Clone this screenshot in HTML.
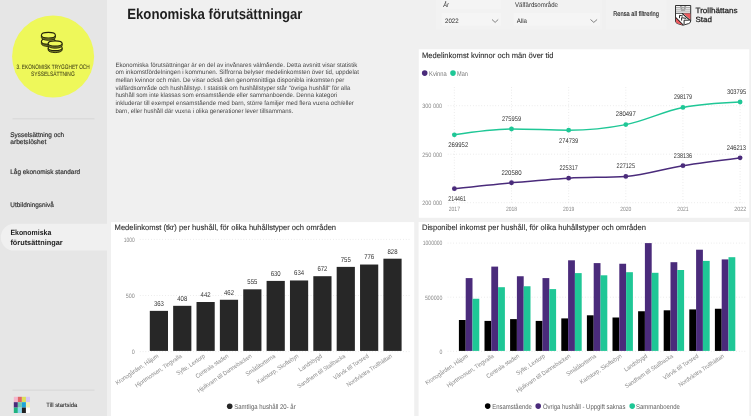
<!DOCTYPE html>
<html lang="sv"><head><meta charset="utf-8"><title>Ekonomiska förutsättningar</title>
<style>html,body{margin:0;padding:0;background:#f0f0f0;overflow:hidden}svg{display:block;will-change:transform}</style></head>
<body>
<svg width="751" height="416" viewBox="0 0 751 416" font-family='"Liberation Sans", sans-serif' text-rendering="geometricPrecision">
<rect width="751" height="416" fill="#f0f0f0"/>
<rect x="0" y="0" width="107" height="416" fill="#e6e6e6"/>
<circle cx="53.1" cy="56.5" r="41" fill="#eef85a"/>
<g>
<path d="M41.40 41.40 v2.3 a7.0 2.8 0 0 0 14.0 0 v-2.3" fill="#a8ae3a" stroke="#26260a" stroke-width="0.9"/><line x1="42.40" y1="43.44" x2="42.40" y2="44.94" stroke="#26260a" stroke-width="0.45"/><line x1="43.40" y1="43.96" x2="43.40" y2="45.46" stroke="#26260a" stroke-width="0.45"/><line x1="44.40" y1="44.30" x2="44.40" y2="45.80" stroke="#26260a" stroke-width="0.45"/><line x1="45.40" y1="44.53" x2="45.40" y2="46.03" stroke="#26260a" stroke-width="0.45"/><line x1="46.40" y1="44.68" x2="46.40" y2="46.18" stroke="#26260a" stroke-width="0.45"/><line x1="47.40" y1="44.77" x2="47.40" y2="46.27" stroke="#26260a" stroke-width="0.45"/><line x1="48.40" y1="44.80" x2="48.40" y2="46.30" stroke="#26260a" stroke-width="0.45"/><line x1="49.40" y1="44.77" x2="49.40" y2="46.27" stroke="#26260a" stroke-width="0.45"/><line x1="50.40" y1="44.68" x2="50.40" y2="46.18" stroke="#26260a" stroke-width="0.45"/><line x1="51.40" y1="44.53" x2="51.40" y2="46.03" stroke="#26260a" stroke-width="0.45"/><line x1="52.40" y1="44.30" x2="52.40" y2="45.80" stroke="#26260a" stroke-width="0.45"/><line x1="53.40" y1="43.96" x2="53.40" y2="45.46" stroke="#26260a" stroke-width="0.45"/><line x1="54.40" y1="43.44" x2="54.40" y2="44.94" stroke="#26260a" stroke-width="0.45"/><ellipse cx="48.4" cy="41.4" rx="7.0" ry="2.8" fill="#eef85a" stroke="#26260a" stroke-width="1.1"/>
<path d="M41.40 35.20 v2.3 a7.0 2.8 0 0 0 14.0 0 v-2.3" fill="#a8ae3a" stroke="#26260a" stroke-width="0.9"/><line x1="42.40" y1="37.24" x2="42.40" y2="38.74" stroke="#26260a" stroke-width="0.45"/><line x1="43.40" y1="37.76" x2="43.40" y2="39.26" stroke="#26260a" stroke-width="0.45"/><line x1="44.40" y1="38.10" x2="44.40" y2="39.60" stroke="#26260a" stroke-width="0.45"/><line x1="45.40" y1="38.33" x2="45.40" y2="39.83" stroke="#26260a" stroke-width="0.45"/><line x1="46.40" y1="38.48" x2="46.40" y2="39.98" stroke="#26260a" stroke-width="0.45"/><line x1="47.40" y1="38.57" x2="47.40" y2="40.07" stroke="#26260a" stroke-width="0.45"/><line x1="48.40" y1="38.60" x2="48.40" y2="40.10" stroke="#26260a" stroke-width="0.45"/><line x1="49.40" y1="38.57" x2="49.40" y2="40.07" stroke="#26260a" stroke-width="0.45"/><line x1="50.40" y1="38.48" x2="50.40" y2="39.98" stroke="#26260a" stroke-width="0.45"/><line x1="51.40" y1="38.33" x2="51.40" y2="39.83" stroke="#26260a" stroke-width="0.45"/><line x1="52.40" y1="38.10" x2="52.40" y2="39.60" stroke="#26260a" stroke-width="0.45"/><line x1="53.40" y1="37.76" x2="53.40" y2="39.26" stroke="#26260a" stroke-width="0.45"/><line x1="54.40" y1="37.24" x2="54.40" y2="38.74" stroke="#26260a" stroke-width="0.45"/><ellipse cx="48.4" cy="35.2" rx="7.0" ry="2.8" fill="#eef85a" stroke="#26260a" stroke-width="1.1"/>
<path d="M48.15 47.90 v2.1 a7.0 2.6 0 0 0 14.0 0 v-2.1" fill="#a8ae3a" stroke="#26260a" stroke-width="0.9"/><line x1="49.15" y1="49.84" x2="49.15" y2="51.14" stroke="#26260a" stroke-width="0.45"/><line x1="50.15" y1="50.32" x2="50.15" y2="51.62" stroke="#26260a" stroke-width="0.45"/><line x1="51.15" y1="50.63" x2="51.15" y2="51.93" stroke="#26260a" stroke-width="0.45"/><line x1="52.15" y1="50.85" x2="52.15" y2="52.15" stroke="#26260a" stroke-width="0.45"/><line x1="53.15" y1="50.99" x2="53.15" y2="52.29" stroke="#26260a" stroke-width="0.45"/><line x1="54.15" y1="51.07" x2="54.15" y2="52.37" stroke="#26260a" stroke-width="0.45"/><line x1="55.15" y1="51.10" x2="55.15" y2="52.40" stroke="#26260a" stroke-width="0.45"/><line x1="56.15" y1="51.07" x2="56.15" y2="52.37" stroke="#26260a" stroke-width="0.45"/><line x1="57.15" y1="50.99" x2="57.15" y2="52.29" stroke="#26260a" stroke-width="0.45"/><line x1="58.15" y1="50.85" x2="58.15" y2="52.15" stroke="#26260a" stroke-width="0.45"/><line x1="59.15" y1="50.63" x2="59.15" y2="51.93" stroke="#26260a" stroke-width="0.45"/><line x1="60.15" y1="50.32" x2="60.15" y2="51.62" stroke="#26260a" stroke-width="0.45"/><line x1="61.15" y1="49.84" x2="61.15" y2="51.14" stroke="#26260a" stroke-width="0.45"/><ellipse cx="55.15" cy="47.9" rx="7.0" ry="2.6" fill="#eef85a" stroke="#26260a" stroke-width="1.1"/>
<path d="M48.15 43.50 v2.1 a7.0 2.6 0 0 0 14.0 0 v-2.1" fill="#a8ae3a" stroke="#26260a" stroke-width="0.9"/><line x1="49.15" y1="45.44" x2="49.15" y2="46.74" stroke="#26260a" stroke-width="0.45"/><line x1="50.15" y1="45.92" x2="50.15" y2="47.22" stroke="#26260a" stroke-width="0.45"/><line x1="51.15" y1="46.23" x2="51.15" y2="47.53" stroke="#26260a" stroke-width="0.45"/><line x1="52.15" y1="46.45" x2="52.15" y2="47.75" stroke="#26260a" stroke-width="0.45"/><line x1="53.15" y1="46.59" x2="53.15" y2="47.89" stroke="#26260a" stroke-width="0.45"/><line x1="54.15" y1="46.67" x2="54.15" y2="47.97" stroke="#26260a" stroke-width="0.45"/><line x1="55.15" y1="46.70" x2="55.15" y2="48.00" stroke="#26260a" stroke-width="0.45"/><line x1="56.15" y1="46.67" x2="56.15" y2="47.97" stroke="#26260a" stroke-width="0.45"/><line x1="57.15" y1="46.59" x2="57.15" y2="47.89" stroke="#26260a" stroke-width="0.45"/><line x1="58.15" y1="46.45" x2="58.15" y2="47.75" stroke="#26260a" stroke-width="0.45"/><line x1="59.15" y1="46.23" x2="59.15" y2="47.53" stroke="#26260a" stroke-width="0.45"/><line x1="60.15" y1="45.92" x2="60.15" y2="47.22" stroke="#26260a" stroke-width="0.45"/><line x1="61.15" y1="45.44" x2="61.15" y2="46.74" stroke="#26260a" stroke-width="0.45"/><ellipse cx="55.15" cy="43.5" rx="7.0" ry="2.6" fill="#eef85a" stroke="#26260a" stroke-width="1.1"/>
</g>
<text x="53.15" y="68.60" font-size="6.3" fill="#45451a" text-anchor="middle" textLength="73.10" lengthAdjust="spacingAndGlyphs" stroke="#45451a" stroke-width="0.06">3. EKONOMISK TRYGGHET OCH</text>
<text x="52.85" y="75.70" font-size="6.3" fill="#45451a" text-anchor="middle" textLength="43.70" lengthAdjust="spacingAndGlyphs" stroke="#45451a" stroke-width="0.06">SYSSELSÄTTNING</text>
<rect x="12.5" y="118.3" width="82" height="1" fill="#d6d6d6"/>
<rect x="12.5" y="389.6" width="82" height="1" fill="#d6d6d6"/>
<text x="10.30" y="136.80" font-size="6.7" fill="#2b2b2b" textLength="53.80" lengthAdjust="spacingAndGlyphs" stroke="#2b2b2b" stroke-width="0.16">Sysselsättning och</text>
<text x="10.30" y="143.80" font-size="6.7" fill="#2b2b2b" textLength="36.00" lengthAdjust="spacingAndGlyphs" stroke="#2b2b2b" stroke-width="0.16">arbetslöshet</text>
<text x="10.30" y="173.60" font-size="6.7" fill="#2b2b2b" textLength="69.80" lengthAdjust="spacingAndGlyphs" stroke="#2b2b2b" stroke-width="0.16">Låg ekonomisk standard</text>
<text x="10.30" y="206.50" font-size="6.7" fill="#2b2b2b" textLength="43.50" lengthAdjust="spacingAndGlyphs" stroke="#2b2b2b" stroke-width="0.16">Utbildningsnivå</text>
<path d="M107 223.7 H14.2 a13.45 13.45 0 0 0 0 26.9 H107 Z" fill="#f0f0f0"/>
<text x="10.40" y="235.10" font-size="7.5" fill="#1a1a1a" font-weight="bold" textLength="40.90" lengthAdjust="spacingAndGlyphs">Ekonomiska</text>
<text x="10.40" y="244.70" font-size="7.5" fill="#1a1a1a" font-weight="bold" textLength="52.20" lengthAdjust="spacingAndGlyphs">förutsättningar</text>
<rect x="13.80" y="396.80" width="4.05" height="5.40" fill="#f4b6cc"/>
<rect x="17.85" y="396.80" width="4.05" height="5.40" fill="#e06666"/>
<rect x="21.90" y="396.80" width="4.05" height="5.40" fill="#dde05a"/>
<rect x="25.95" y="396.80" width="4.05" height="5.40" fill="#d6c6f5"/>
<rect x="13.80" y="402.20" width="4.05" height="5.40" fill="#4a2a7a"/>
<rect x="17.85" y="402.20" width="4.05" height="5.40" fill="#6fc9ae"/>
<rect x="21.90" y="402.20" width="4.05" height="5.40" fill="#1ea5d8"/>
<rect x="25.95" y="402.20" width="4.05" height="5.40" fill="#f3efb5"/>
<rect x="13.80" y="407.60" width="4.05" height="5.40" fill="#1fb380"/>
<rect x="17.85" y="407.60" width="4.05" height="5.40" fill="#8ed6ee"/>
<rect x="21.90" y="407.60" width="4.05" height="5.40" fill="#222222"/>
<rect x="25.95" y="407.60" width="4.05" height="5.40" fill="#ffffff"/>
<text x="46.30" y="407.20" font-size="6.0" fill="#2b2b2b" textLength="31.00" lengthAdjust="spacingAndGlyphs" stroke="#2b2b2b" stroke-width="0.08">Till startsida</text>
<text x="127.20" y="19.40" font-size="14.8" fill="#1f1f1f" font-weight="bold" textLength="175.30" lengthAdjust="spacingAndGlyphs">Ekonomiska förutsättningar</text>
<text x="115.40" y="66.60" font-size="6.35" fill="#484848" textLength="241.90" lengthAdjust="spacingAndGlyphs">Ekonomiska förutsättningar är en del av invånares välmående. Detta avsnitt visar statistik</text>
<text x="115.40" y="74.30" font-size="6.35" fill="#484848" textLength="243.60" lengthAdjust="spacingAndGlyphs">om inkomstfördelningen i kommunen. Siffrorna belyser medelinkomsten över tid, uppdelat</text>
<text x="115.40" y="82.00" font-size="6.35" fill="#484848" textLength="228.90" lengthAdjust="spacingAndGlyphs">mellan kvinnor och män. De visar också den genomsnittliga disponibla inkomsten per</text>
<text x="115.40" y="89.70" font-size="6.35" fill="#484848" textLength="234.90" lengthAdjust="spacingAndGlyphs">välfärdsområde och hushållstyp. I statistik om hushållstyper står "övriga hushåll" för alla</text>
<text x="115.40" y="97.40" font-size="6.35" fill="#484848" textLength="221.70" lengthAdjust="spacingAndGlyphs">hushåll som inte klassas som ensamstående eller sammanboende. Denna kategori</text>
<text x="115.40" y="105.10" font-size="6.35" fill="#484848" textLength="238.50" lengthAdjust="spacingAndGlyphs">inkluderar till exempel ensamstående med barn, större familjer med flera vuxna och/eller</text>
<text x="115.40" y="112.80" font-size="6.35" fill="#484848" textLength="177.90" lengthAdjust="spacingAndGlyphs">barn, eller hushåll där vuxna i olika generationer lever tillsammans.</text>
<rect x="436" y="0" width="166" height="29.6" fill="#f2f2f2"/>
<rect x="441.6" y="13" width="59.5" height="12.7" fill="#f5f5f5"/><rect x="441.6" y="0" width="59.5" height="9" fill="#f4f4f4"/>
<rect x="513.6" y="13" width="86.3" height="12.7" fill="#f5f5f5"/>
<text x="443.30" y="7.20" font-size="6.8" fill="#333" textLength="5.60" lengthAdjust="spacingAndGlyphs" font-style="italic">År</text>
<text x="515.00" y="6.90" font-size="6.8" fill="#333" textLength="43.00" lengthAdjust="spacingAndGlyphs">Välfärdsområde</text>
<text x="445.00" y="22.60" font-size="6.4" fill="#2b2b2b" textLength="13.60" lengthAdjust="spacingAndGlyphs">2022</text>
<text x="516.80" y="22.60" font-size="6.4" fill="#2b2b2b" textLength="10.20" lengthAdjust="spacingAndGlyphs">Alla</text>
<path d="M492 19.5 l3.1 2.9 l3.1 -2.9" fill="none" stroke="#333" stroke-width="0.6"/>
<path d="M590.5 19.5 l3.3 2.9 l3.3 -2.9" fill="none" stroke="#333" stroke-width="0.6"/>
<rect x="606" y="0" width="60.5" height="29.5" fill="#f2f2f2"/>
<text x="613.20" y="16.40" font-size="6.8" fill="#222" textLength="45.80" lengthAdjust="spacingAndGlyphs" stroke="#222" stroke-width="0.12">Rensa all filtrering</text>
<g stroke-linejoin="round">
<path d="M675.5 5.5 H690.7 V21 Q690.7 22.9 688.6 23.6 L683 25.2 L677.6 23.6 Q675.5 22.9 675.5 21 Z" fill="#fff" stroke="#1a1a1a" stroke-width="0.9"/>
<path d="M676 7.4 H690.2 M676 9.2 H690.2 M676 11.1 H690.2" stroke="#333" stroke-width="0.45"/><path d="M676 13.3 H690.2" stroke="#1a1a1a" stroke-width="0.8"/>
<path d="M680 6.4 L682.4 6.9 M683.8 6.9 L686.2 6.4 M680.5 8.4 L682.4 8.7 M683.8 8.7 L685.7 8.4 M681 10.2 H685.2" stroke="#333" stroke-width="0.45" fill="none"/>
<path d="M683.3 13.4 H690.3 V19.6 Z" fill="#ee5a5f"/>
<path d="M675.9 17.6 L683.1 24.9 L677.7 23.4 Q675.9 22.7 675.9 21 Z" fill="#ee5a5f"/>
<path d="M682.0 13.3 L690.4 20.6 M675.8 17.5 L683.3 25.0" stroke="#1a1a1a" stroke-width="1.05" fill="none"/>
<path d="M682.9 16.0 L679.5 15.4 V18.2 M686.2 18.4 L681.6 17.7 V20.6 M688.9 20.2 H684.1 V24.0" stroke="#1a1a1a" stroke-width="0.95" fill="none"/>
</g>
<text x="695.50" y="13.40" font-size="7.6" fill="#222" textLength="42.00" lengthAdjust="spacingAndGlyphs" stroke="#222" stroke-width="0.25">Trollhättans</text>
<text x="695.50" y="21.50" font-size="7.6" fill="#222" textLength="16.40" lengthAdjust="spacingAndGlyphs" stroke="#222" stroke-width="0.25">Stad</text>
<rect x="418.8" y="49.3" width="330.5" height="168.5" fill="#fff"/>
<rect x="111.05" y="222.1" width="303.15" height="194" fill="#fff"/>
<rect x="418.6" y="222.0" width="330.7" height="194" fill="#fff"/>
<text x="422.00" y="57.50" font-size="7.8" fill="#2b2b2b" textLength="131.50" lengthAdjust="spacingAndGlyphs" stroke="#2b2b2b" stroke-width="0.1">Medelinkomst kvinnor och män över tid</text>
<circle cx="424.7" cy="73.1" r="2.8" fill="#4a2b7b"/>
<text x="429.00" y="75.80" font-size="6.8" fill="#7a7a7a" textLength="17.80" lengthAdjust="spacingAndGlyphs">Kvinna</text>
<circle cx="453" cy="73.1" r="2.8" fill="#1fc796"/>
<text x="457.10" y="75.80" font-size="6.8" fill="#7a7a7a" textLength="10.90" lengthAdjust="spacingAndGlyphs">Man</text>
<line x1="447.8" y1="105.7" x2="745" y2="105.7" stroke="#d9d9d9" stroke-width="0.7" stroke-dasharray="0.7 2.1"/>
<text x="422.20" y="108.00" font-size="6.3" fill="#8a8a8a" textLength="20.00" lengthAdjust="spacingAndGlyphs">300 000</text>
<line x1="447.8" y1="154.2" x2="745" y2="154.2" stroke="#d9d9d9" stroke-width="0.7" stroke-dasharray="0.7 2.1"/>
<text x="422.20" y="156.50" font-size="6.3" fill="#8a8a8a" textLength="20.00" lengthAdjust="spacingAndGlyphs">250 000</text>
<line x1="447.8" y1="202.7" x2="745" y2="202.7" stroke="#d9d9d9" stroke-width="0.7" stroke-dasharray="0.7 2.1"/>
<text x="422.20" y="205.00" font-size="6.3" fill="#8a8a8a" textLength="20.00" lengthAdjust="spacingAndGlyphs">200 000</text>
<line x1="454.35" y1="87" x2="454.35" y2="203" stroke="#d9d9d9" stroke-width="0.7" stroke-dasharray="0.7 2.1"/>
<line x1="511.5" y1="87" x2="511.5" y2="203" stroke="#d9d9d9" stroke-width="0.7" stroke-dasharray="0.7 2.1"/>
<line x1="568.65" y1="87" x2="568.65" y2="203" stroke="#d9d9d9" stroke-width="0.7" stroke-dasharray="0.7 2.1"/>
<line x1="625.8" y1="87" x2="625.8" y2="203" stroke="#d9d9d9" stroke-width="0.7" stroke-dasharray="0.7 2.1"/>
<line x1="682.95" y1="87" x2="682.95" y2="203" stroke="#d9d9d9" stroke-width="0.7" stroke-dasharray="0.7 2.1"/>
<line x1="740.1" y1="87" x2="740.1" y2="203" stroke="#d9d9d9" stroke-width="0.7" stroke-dasharray="0.7 2.1"/>
<text x="454.35" y="210.60" font-size="6.2" fill="#8a8a8a" text-anchor="middle" textLength="11.20" lengthAdjust="spacingAndGlyphs">2017</text>
<text x="511.50" y="210.60" font-size="6.2" fill="#8a8a8a" text-anchor="middle" textLength="11.20" lengthAdjust="spacingAndGlyphs">2018</text>
<text x="568.65" y="210.60" font-size="6.2" fill="#8a8a8a" text-anchor="middle" textLength="11.20" lengthAdjust="spacingAndGlyphs">2019</text>
<text x="625.80" y="210.60" font-size="6.2" fill="#8a8a8a" text-anchor="middle" textLength="11.20" lengthAdjust="spacingAndGlyphs">2020</text>
<text x="682.95" y="210.60" font-size="6.2" fill="#8a8a8a" text-anchor="middle" textLength="11.20" lengthAdjust="spacingAndGlyphs">2021</text>
<text x="746.40" y="210.60" font-size="6.2" fill="#8a8a8a" text-anchor="end" textLength="12.20" lengthAdjust="spacingAndGlyphs">2022</text>
<path d="M454.35 134.85 C473.40 131.93 492.45 129.02 511.50 129.02 C530.55 129.02 549.60 130.20 568.65 130.20 C587.70 130.20 606.75 128.34 625.80 124.62 C644.85 120.89 663.90 111.10 682.95 107.47 C702.00 103.83 721.05 102.93 740.10 102.02" fill="none" stroke="#1fc796" stroke-width="1.5" stroke-linecap="round"/>
<circle cx="454.35" cy="134.85" r="2.4" fill="#1fc796"/>
<circle cx="511.50" cy="129.02" r="2.4" fill="#1fc796"/>
<circle cx="568.65" cy="130.20" r="2.4" fill="#1fc796"/>
<circle cx="625.80" cy="124.62" r="2.4" fill="#1fc796"/>
<circle cx="682.95" cy="107.47" r="2.4" fill="#1fc796"/>
<circle cx="740.10" cy="102.02" r="2.4" fill="#1fc796"/>
<path d="M454.35 188.67 C473.40 186.58 492.45 184.49 511.50 182.74 C530.55 180.98 549.60 179.20 568.65 178.14 C587.70 177.08 606.75 177.56 625.80 176.39 C644.85 175.22 663.90 168.79 682.95 165.71 C702.00 162.62 721.05 160.25 740.10 157.87" fill="none" stroke="#4a2b7b" stroke-width="1.5" stroke-linecap="round"/>
<circle cx="454.35" cy="188.67" r="2.4" fill="#4a2b7b"/>
<circle cx="511.50" cy="182.74" r="2.4" fill="#4a2b7b"/>
<circle cx="568.65" cy="178.14" r="2.4" fill="#4a2b7b"/>
<circle cx="625.80" cy="176.39" r="2.4" fill="#4a2b7b"/>
<circle cx="682.95" cy="165.71" r="2.4" fill="#4a2b7b"/>
<circle cx="740.10" cy="157.87" r="2.4" fill="#4a2b7b"/>
<text x="448.30" y="201.07" font-size="6.9" fill="#333" textLength="17.60" lengthAdjust="spacingAndGlyphs">214461</text>
<text x="511.50" y="174.54" font-size="6.9" fill="#333" text-anchor="middle" textLength="20.20" lengthAdjust="spacingAndGlyphs">220580</text>
<text x="568.65" y="169.94" font-size="6.9" fill="#333" text-anchor="middle" textLength="18.30" lengthAdjust="spacingAndGlyphs">225317</text>
<text x="625.80" y="168.19" font-size="6.9" fill="#333" text-anchor="middle" textLength="18.40" lengthAdjust="spacingAndGlyphs">227125</text>
<text x="682.95" y="157.51" font-size="6.9" fill="#333" text-anchor="middle" textLength="18.20" lengthAdjust="spacingAndGlyphs">238136</text>
<text x="746.10" y="149.67" font-size="6.9" fill="#333" text-anchor="end" textLength="19.40" lengthAdjust="spacingAndGlyphs">246213</text>
<text x="448.30" y="147.25" font-size="6.9" fill="#333" textLength="19.90" lengthAdjust="spacingAndGlyphs">269952</text>
<text x="511.50" y="120.82" font-size="6.9" fill="#333" text-anchor="middle" textLength="19.20" lengthAdjust="spacingAndGlyphs">275959</text>
<text x="568.65" y="142.60" font-size="6.9" fill="#333" text-anchor="middle" textLength="19.30" lengthAdjust="spacingAndGlyphs">274739</text>
<text x="625.80" y="116.42" font-size="6.9" fill="#333" text-anchor="middle" textLength="19.90" lengthAdjust="spacingAndGlyphs">280497</text>
<text x="682.95" y="99.27" font-size="6.9" fill="#333" text-anchor="middle" textLength="18.10" lengthAdjust="spacingAndGlyphs">298179</text>
<text x="746.10" y="93.82" font-size="6.9" fill="#333" text-anchor="end" textLength="19.10" lengthAdjust="spacingAndGlyphs">303795</text>
<text x="114.60" y="229.70" font-size="7.8" fill="#2b2b2b" textLength="221.50" lengthAdjust="spacingAndGlyphs" stroke="#2b2b2b" stroke-width="0.1">Medelinkomst (tkr) per hushåll, för olika huhållstyper och områden</text>
<line x1="139.9" y1="239.4" x2="410" y2="239.4" stroke="#d9d9d9" stroke-width="0.7" stroke-dasharray="0.7 2.1"/>
<text x="134.70" y="241.70" font-size="6.3" fill="#8a8a8a" text-anchor="end" textLength="11.00" lengthAdjust="spacingAndGlyphs">1000</text>
<line x1="139.9" y1="295.5" x2="410" y2="295.5" stroke="#d9d9d9" stroke-width="0.7" stroke-dasharray="0.7 2.1"/>
<text x="134.70" y="297.80" font-size="6.3" fill="#8a8a8a" text-anchor="end" textLength="9.00" lengthAdjust="spacingAndGlyphs">500</text>
<line x1="139.9" y1="351.6" x2="410" y2="351.6" stroke="#d9d9d9" stroke-width="0.7" stroke-dasharray="0.7 2.1"/>
<text x="134.70" y="353.90" font-size="6.3" fill="#8a8a8a" text-anchor="end" textLength="3.00" lengthAdjust="spacingAndGlyphs">0</text>
<rect x="149.80" y="310.87" width="18.2" height="40.03" fill="#272727"/>
<text x="158.90" y="305.67" font-size="7.1" fill="#333" text-anchor="middle" textLength="10.00" lengthAdjust="spacingAndGlyphs">363</text>
<text transform="translate(158.90 357.00) rotate(-34)" font-size="6.2" fill="#8a8a8a" text-anchor="end" textLength="50.17" lengthAdjust="spacingAndGlyphs">Kronogården, Håjum</text>
<rect x="173.16" y="305.82" width="18.2" height="45.08" fill="#272727"/>
<text x="182.26" y="300.62" font-size="7.1" fill="#333" text-anchor="middle" textLength="10.00" lengthAdjust="spacingAndGlyphs">408</text>
<text transform="translate(182.26 357.00) rotate(-34)" font-size="6.2" fill="#8a8a8a" text-anchor="end" textLength="55.00" lengthAdjust="spacingAndGlyphs">Hjortmossen, Tingvalla</text>
<rect x="196.52" y="302.01" width="18.2" height="48.89" fill="#272727"/>
<text x="205.62" y="296.81" font-size="7.1" fill="#333" text-anchor="middle" textLength="10.00" lengthAdjust="spacingAndGlyphs">442</text>
<text transform="translate(205.62 357.00) rotate(-34)" font-size="6.2" fill="#8a8a8a" text-anchor="end" textLength="33.24" lengthAdjust="spacingAndGlyphs">Sylte, Lextorp</text>
<rect x="219.88" y="299.76" width="18.2" height="51.14" fill="#272727"/>
<text x="228.98" y="294.56" font-size="7.1" fill="#333" text-anchor="middle" textLength="10.00" lengthAdjust="spacingAndGlyphs">462</text>
<text transform="translate(228.98 357.00) rotate(-34)" font-size="6.2" fill="#8a8a8a" text-anchor="end" textLength="38.39" lengthAdjust="spacingAndGlyphs">Centrala staden</text>
<rect x="243.24" y="289.33" width="18.2" height="61.57" fill="#272727"/>
<text x="252.34" y="284.13" font-size="7.1" fill="#333" text-anchor="middle" textLength="10.00" lengthAdjust="spacingAndGlyphs">555</text>
<text transform="translate(252.34 357.00) rotate(-34)" font-size="6.2" fill="#8a8a8a" text-anchor="end" textLength="64.37" lengthAdjust="spacingAndGlyphs">Hjulkvarn till Dannebacken</text>
<rect x="266.60" y="280.91" width="18.2" height="69.99" fill="#272727"/>
<text x="275.70" y="275.71" font-size="7.1" fill="#333" text-anchor="middle" textLength="10.00" lengthAdjust="spacingAndGlyphs">630</text>
<text transform="translate(275.70 357.00) rotate(-34)" font-size="6.2" fill="#8a8a8a" text-anchor="end" textLength="34.45" lengthAdjust="spacingAndGlyphs">Småtåtorterna</text>
<rect x="289.96" y="280.47" width="18.2" height="70.43" fill="#272727"/>
<text x="299.06" y="275.27" font-size="7.1" fill="#333" text-anchor="middle" textLength="10.00" lengthAdjust="spacingAndGlyphs">634</text>
<text transform="translate(299.06 357.00) rotate(-34)" font-size="6.2" fill="#8a8a8a" text-anchor="end" textLength="48.96" lengthAdjust="spacingAndGlyphs">Karlstorp, Skoftebyn</text>
<rect x="313.32" y="276.20" width="18.2" height="74.70" fill="#272727"/>
<text x="322.42" y="271.00" font-size="7.1" fill="#333" text-anchor="middle" textLength="10.00" lengthAdjust="spacingAndGlyphs">672</text>
<text transform="translate(322.42 357.00) rotate(-34)" font-size="6.2" fill="#8a8a8a" text-anchor="end" textLength="26.60" lengthAdjust="spacingAndGlyphs">Landsbygd</text>
<rect x="336.68" y="266.89" width="18.2" height="84.01" fill="#272727"/>
<text x="345.78" y="261.69" font-size="7.1" fill="#333" text-anchor="middle" textLength="10.00" lengthAdjust="spacingAndGlyphs">755</text>
<text transform="translate(345.78 357.00) rotate(-34)" font-size="6.2" fill="#8a8a8a" text-anchor="end" textLength="56.52" lengthAdjust="spacingAndGlyphs">Sandhem till Stallbacka</text>
<rect x="360.04" y="264.53" width="18.2" height="86.37" fill="#272727"/>
<text x="369.14" y="259.33" font-size="7.1" fill="#333" text-anchor="middle" textLength="10.00" lengthAdjust="spacingAndGlyphs">776</text>
<text transform="translate(369.14 357.00) rotate(-34)" font-size="6.2" fill="#8a8a8a" text-anchor="end" textLength="41.30" lengthAdjust="spacingAndGlyphs">Vårvik till Torsred</text>
<rect x="383.40" y="258.70" width="18.2" height="92.20" fill="#272727"/>
<text x="392.50" y="253.50" font-size="7.1" fill="#333" text-anchor="middle" textLength="10.00" lengthAdjust="spacingAndGlyphs">828</text>
<text transform="translate(392.50 357.00) rotate(-34)" font-size="6.2" fill="#8a8a8a" text-anchor="end" textLength="53.49" lengthAdjust="spacingAndGlyphs">Nordvästra Trollhättan</text>
<circle cx="229.7" cy="406.3" r="2.8" fill="#272727"/>
<text x="234.20" y="408.60" font-size="6.9" fill="#5c5c5c" textLength="61.50" lengthAdjust="spacingAndGlyphs">Samtliga hushåll 20- år</text>
<text x="421.90" y="229.70" font-size="7.8" fill="#2b2b2b" textLength="224.00" lengthAdjust="spacingAndGlyphs" stroke="#2b2b2b" stroke-width="0.1">Disponibel inkomst per hushåll, för olika huhållstyper och områden</text>
<line x1="447.7" y1="243.1" x2="745.5" y2="243.1" stroke="#d9d9d9" stroke-width="0.7" stroke-dasharray="0.7 2.1"/>
<text x="442.40" y="245.40" font-size="6.3" fill="#8a8a8a" text-anchor="end" textLength="19.70" lengthAdjust="spacingAndGlyphs">1000000</text>
<line x1="447.7" y1="297.2" x2="745.5" y2="297.2" stroke="#d9d9d9" stroke-width="0.7" stroke-dasharray="0.7 2.1"/>
<text x="442.40" y="299.50" font-size="6.3" fill="#8a8a8a" text-anchor="end" textLength="17.50" lengthAdjust="spacingAndGlyphs">500000</text>
<line x1="447.7" y1="351.3" x2="745.5" y2="351.3" stroke="#d9d9d9" stroke-width="0.7" stroke-dasharray="0.7 2.1"/>
<text x="442.40" y="353.60" font-size="6.3" fill="#8a8a8a" text-anchor="end" textLength="2.90" lengthAdjust="spacingAndGlyphs">0</text>
<rect x="458.90" y="320.00" width="6.8" height="30.90" fill="#000"/>
<rect x="465.70" y="278.10" width="6.8" height="72.80" fill="#4a2b7b"/>
<rect x="472.50" y="298.75" width="6.8" height="52.15" fill="#1fc796"/>
<text transform="translate(468.60 357.00) rotate(-34)" font-size="6.2" fill="#8a8a8a" text-anchor="end" textLength="50.17" lengthAdjust="spacingAndGlyphs">Kronogården, Håjum</text>
<rect x="484.50" y="320.90" width="6.8" height="30.00" fill="#000"/>
<rect x="491.30" y="266.60" width="6.8" height="84.30" fill="#4a2b7b"/>
<rect x="498.10" y="287.20" width="6.8" height="63.70" fill="#1fc796"/>
<text transform="translate(494.20 357.00) rotate(-34)" font-size="6.2" fill="#8a8a8a" text-anchor="end" textLength="55.00" lengthAdjust="spacingAndGlyphs">Hjortmossen, Tingvalla</text>
<rect x="510.10" y="319.10" width="6.8" height="31.80" fill="#000"/>
<rect x="516.90" y="276.25" width="6.8" height="74.65" fill="#4a2b7b"/>
<rect x="523.70" y="286.25" width="6.8" height="64.65" fill="#1fc796"/>
<text transform="translate(519.80 357.00) rotate(-34)" font-size="6.2" fill="#8a8a8a" text-anchor="end" textLength="38.39" lengthAdjust="spacingAndGlyphs">Centrala staden</text>
<rect x="535.70" y="320.90" width="6.8" height="30.00" fill="#000"/>
<rect x="542.50" y="278.10" width="6.8" height="72.80" fill="#4a2b7b"/>
<rect x="549.30" y="289.10" width="6.8" height="61.80" fill="#1fc796"/>
<text transform="translate(545.40 357.00) rotate(-34)" font-size="6.2" fill="#8a8a8a" text-anchor="end" textLength="33.24" lengthAdjust="spacingAndGlyphs">Sylte, Lextorp</text>
<rect x="561.30" y="318.40" width="6.8" height="32.50" fill="#000"/>
<rect x="568.10" y="260.30" width="6.8" height="90.60" fill="#4a2b7b"/>
<rect x="574.90" y="273.10" width="6.8" height="77.80" fill="#1fc796"/>
<text transform="translate(571.00 357.00) rotate(-34)" font-size="6.2" fill="#8a8a8a" text-anchor="end" textLength="64.37" lengthAdjust="spacingAndGlyphs">Hjulkvarn till Dannebacken</text>
<rect x="586.90" y="315.30" width="6.8" height="35.60" fill="#000"/>
<rect x="593.70" y="263.10" width="6.8" height="87.80" fill="#4a2b7b"/>
<rect x="600.50" y="275.30" width="6.8" height="75.60" fill="#1fc796"/>
<text transform="translate(596.60 357.00) rotate(-34)" font-size="6.2" fill="#8a8a8a" text-anchor="end" textLength="34.45" lengthAdjust="spacingAndGlyphs">Småtåtorterna</text>
<rect x="612.50" y="317.50" width="6.8" height="33.40" fill="#000"/>
<rect x="619.30" y="263.75" width="6.8" height="87.15" fill="#4a2b7b"/>
<rect x="626.10" y="272.20" width="6.8" height="78.70" fill="#1fc796"/>
<text transform="translate(622.20 357.00) rotate(-34)" font-size="6.2" fill="#8a8a8a" text-anchor="end" textLength="48.96" lengthAdjust="spacingAndGlyphs">Karlstorp, Skoftebyn</text>
<rect x="638.10" y="311.25" width="6.8" height="39.65" fill="#000"/>
<rect x="644.90" y="243.10" width="6.8" height="107.80" fill="#4a2b7b"/>
<rect x="651.70" y="272.80" width="6.8" height="78.10" fill="#1fc796"/>
<text transform="translate(647.80 357.00) rotate(-34)" font-size="6.2" fill="#8a8a8a" text-anchor="end" textLength="26.60" lengthAdjust="spacingAndGlyphs">Landsbygd</text>
<rect x="663.70" y="310.30" width="6.8" height="40.60" fill="#000"/>
<rect x="670.50" y="262.20" width="6.8" height="88.70" fill="#4a2b7b"/>
<rect x="677.30" y="270.00" width="6.8" height="80.90" fill="#1fc796"/>
<text transform="translate(673.40 357.00) rotate(-34)" font-size="6.2" fill="#8a8a8a" text-anchor="end" textLength="56.52" lengthAdjust="spacingAndGlyphs">Sandhem till Stallbacka</text>
<rect x="689.30" y="309.40" width="6.8" height="41.50" fill="#000"/>
<rect x="696.10" y="249.70" width="6.8" height="101.20" fill="#4a2b7b"/>
<rect x="702.90" y="260.90" width="6.8" height="90.00" fill="#1fc796"/>
<text transform="translate(699.00 357.00) rotate(-34)" font-size="6.2" fill="#8a8a8a" text-anchor="end" textLength="41.30" lengthAdjust="spacingAndGlyphs">Vårvik till Torsred</text>
<rect x="714.90" y="308.75" width="6.8" height="42.15" fill="#000"/>
<rect x="721.70" y="259.40" width="6.8" height="91.50" fill="#4a2b7b"/>
<rect x="728.50" y="257.20" width="6.8" height="93.70" fill="#1fc796"/>
<text transform="translate(724.60 357.00) rotate(-34)" font-size="6.2" fill="#8a8a8a" text-anchor="end" textLength="53.49" lengthAdjust="spacingAndGlyphs">Nordvästra Trollhättan</text>
<circle cx="487.7" cy="406.1" r="2.8" fill="#000"/>
<text x="492.20" y="408.60" font-size="6.9" fill="#5c5c5c" textLength="39.70" lengthAdjust="spacingAndGlyphs">Ensamstående</text>
<circle cx="538.2" cy="406.1" r="2.8" fill="#4a2b7b"/>
<text x="542.90" y="408.60" font-size="6.9" fill="#5c5c5c" textLength="82.50" lengthAdjust="spacingAndGlyphs">Övriga hushåll - Uppgift saknas</text>
<circle cx="632.2" cy="406.1" r="2.8" fill="#1fc796"/>
<text x="636.00" y="408.60" font-size="6.9" fill="#5c5c5c" textLength="43.90" lengthAdjust="spacingAndGlyphs">Sammanboende</text>
</svg>
</body></html>
